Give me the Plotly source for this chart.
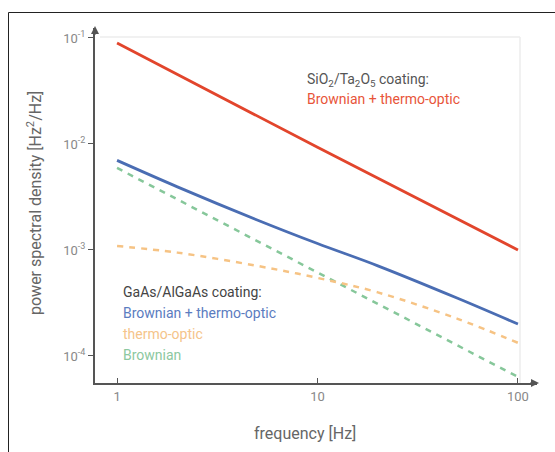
import plotly.graph_objects as go

# ---- data ----
freq_red = [1, 10, 100]
psd_red = [8.97e-2, 9.3e-3, 1.0e-3]          # SiO2/Ta2O5 Brownian + thermo-optic

freq_gaas = [1, 2, 5, 10, 20, 50, 100]
psd_blue = [7.0e-3, 3.94e-3, 1.92e-3, 1.15e-3, 7.08e-4, 3.5e-4, 2.0e-4]      # GaAs Brownian + thermo-optic
psd_orange = [1.09e-3, 9.44e-4, 7.08e-4, 5.45e-4, 3.98e-4, 2.24e-4, 1.33e-4]  # GaAs thermo-optic

freq_green = [1, 10, 100]
psd_green = [5.94e-3, 6.14e-4, 6.34e-5]      # GaAs Brownian

x_tickvals = [1, 10, 100]
x_ticktext = ["1", "10", "100"]
y_tickvals = [1e-1, 1e-2, 1e-3, 1e-4]
y_ticktext = ["10<sup>-1</sup>", "10<sup>-2</sup>", "10<sup>-3</sup>", "10<sup>-4</sup>"]

# ---- layout geometry (pixels) ----
W, H = 555, 452
L, R, T, B = 95, 537, 28, 383


def px(x):
    return (x - L) / (R - L)


def py(y):
    return (B - y) / (B - T)


FONT = "Roboto"
AX = "#555555"

fig = go.Figure()
fig.add_trace(go.Scatter(x=freq_green, y=psd_green, mode="lines",
                         line=dict(color="#86c79a", width=2.5, dash="6px,6px")))
fig.add_trace(go.Scatter(x=freq_gaas, y=psd_orange, mode="lines",
                         line=dict(color="#f6c384", width=2.5, dash="6px,6px", shape="spline")))
fig.add_trace(go.Scatter(x=freq_gaas, y=psd_blue, mode="lines",
                         line=dict(color="#4a6db3", width=2.8, shape="spline")))
fig.add_trace(go.Scatter(x=freq_red, y=psd_red, mode="lines",
                         line=dict(color="#e2452c", width=2.8)))

shapes = [
    # outer frame (left, top)
    dict(type="line", xref="paper", yref="paper", x0=px(8.5), x1=px(8.5), y0=py(12.5), y1=py(452),
         line=dict(color="#222222", width=1)),
    dict(type="line", xref="paper", yref="paper", x0=px(8.5), x1=px(556), y0=py(12.5), y1=py(12.5),
         line=dict(color="#222222", width=1)),
    # light plot box (top, right)
    dict(type="line", xref="paper", yref="paper", x0=px(100), x1=px(520), y0=py(37), y1=py(37),
         line=dict(color="#ececec", width=1.5)),
    dict(type="line", xref="paper", yref="paper", x0=px(520), x1=px(520), y0=py(37), y1=py(383),
         line=dict(color="#ececec", width=1.5)),
]

annotations = [
    dict(xref="paper", yref="paper", x=px(305), y=py(80), xanchor="left", yanchor="middle",
         text="SiO<sub>2</sub>/Ta<sub>2</sub>O<sub>5</sub> coating:", showarrow=False,
         font=dict(family=FONT, size=14, color="#555555")),
    dict(xref="paper", yref="paper", x=px(305), y=py(99), xanchor="left", yanchor="middle",
         text="Brownian + thermo-optic", showarrow=False,
         font=dict(family=FONT, size=14, color="#e8553a")),
    dict(xref="paper", yref="paper", x=px(121), y=py(292), xanchor="left", yanchor="middle",
         text="GaAs/AlGaAs coating:", showarrow=False,
         font=dict(family=FONT, size=14, color="#444444")),
    dict(xref="paper", yref="paper", x=px(121), y=py(313), xanchor="left", yanchor="middle",
         text="Brownian + thermo-optic", showarrow=False,
         font=dict(family=FONT, size=14, color="#5b7cc0")),
    dict(xref="paper", yref="paper", x=px(121), y=py(334), xanchor="left", yanchor="middle",
         text="thermo-optic", showarrow=False,
         font=dict(family=FONT, size=14, color="#f5c48a")),
    dict(xref="paper", yref="paper", x=px(121), y=py(355), xanchor="left", yanchor="middle",
         text="Brownian", showarrow=False,
         font=dict(family=FONT, size=14, color="#8cc8a0")),
    # axis titles
    dict(xref="paper", yref="paper", x=px(305), y=py(433), xanchor="center", yanchor="middle",
         text="frequency [Hz]", showarrow=False,
         font=dict(family=FONT, size=16, color="#666666")),
    dict(xref="paper", yref="paper", x=px(34), y=py(203), xanchor="center", yanchor="middle",
         text="power spectral density [Hz<sup>2</sup>/Hz]", showarrow=False, textangle=-90,
         font=dict(family=FONT, size=16, color="#666666")),
    # axis arrows
    dict(xref="paper", yref="paper", x=px(95), y=py(26), ax=0, ay=10, axref="pixel", ayref="pixel",
         showarrow=True, arrowhead=2, arrowsize=0.8, arrowwidth=2, arrowcolor=AX, text=""),
    dict(xref="paper", yref="paper", x=px(539), y=py(383), ax=-10, ay=0, axref="pixel", ayref="pixel",
         showarrow=True, arrowhead=2, arrowsize=0.8, arrowwidth=2, arrowcolor=AX, text=""),
]

fig.update_layout(
    width=W, height=H,
    margin=dict(l=L, r=W - R, t=T, b=H - B, autoexpand=False),
    paper_bgcolor="white", plot_bgcolor="white",
    showlegend=False,
    shapes=shapes, annotations=annotations,
    font=dict(family=FONT, color="#888888"),
)
fig.update_xaxes(type="log", range=[-0.11, 2.095], tickvals=x_tickvals, ticktext=x_ticktext,
                 showgrid=False, zeroline=False, showline=True, linecolor=AX, linewidth=2,
                 ticks="inside", ticklen=5, tickcolor=AX, tickwidth=1,
                 tickfont=dict(family=FONT, size=13, color="#888888"))
fig.update_yaxes(type="log", range=[-4.255, -0.906], tickvals=y_tickvals, ticktext=y_ticktext,
                 showgrid=False, zeroline=False, showline=True, linecolor=AX, linewidth=2,
                 ticks="outside", ticklen=5, tickcolor=AX, tickwidth=1,
                 tickfont=dict(family=FONT, size=13, color="#888888"))

fig.write_html("out.html")
